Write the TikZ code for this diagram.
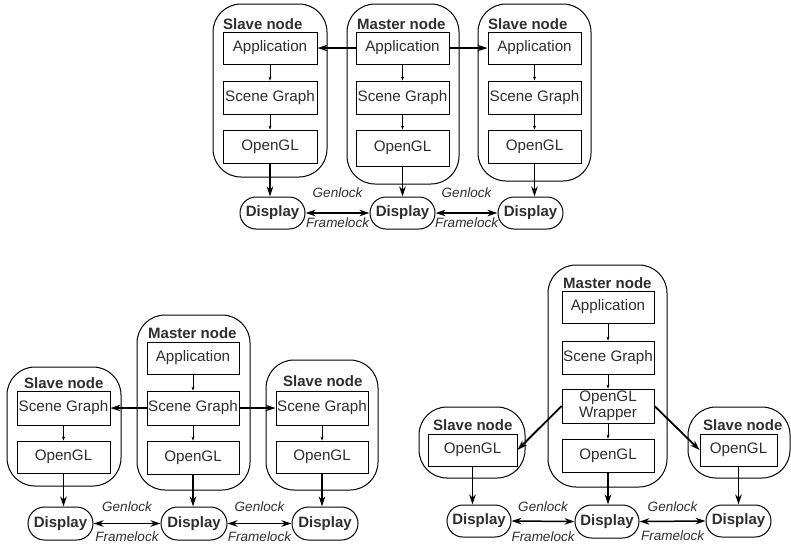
\documentclass[tikz,border=0pt]{standalone}
\usepackage{fontspec}
\setmainfont{Liberation Sans}
\usetikzlibrary{arrows.meta,shapes.misc}
\definecolor{txt}{HTML}{2E2E2E}
\tikzset{
 ibox/.style={draw, line width=0.9pt, rectangle, inner sep=0pt, font=\fontsize{15.2}{16}\selectfont, text=txt, align=center},
 obox/.style={draw, line width=1pt, rounded corners=28pt, inner sep=0pt},
 dispbox/.style={draw, line width=1pt, rounded rectangle, inner sep=0pt, font=\fontsize{15}{15}\selectfont\bfseries, text=txt},
 lab/.style={font=\fontsize{15}{15}\selectfont\bfseries, text=txt, anchor=west, inner sep=0pt},
 lock/.style={font=\fontsize{13.5}{14}\selectfont\itshape, text=txt, inner sep=0pt},
 thinarr/.style={-{Stealth[length=4pt,width=3pt]}, line width=0.5pt},
 thickarr/.style={-{Stealth[length=10pt,width=6.5pt]}, line width=1.8pt},
 botharr/.style={{Stealth[length=10pt,width=6.5pt]}-{Stealth[length=10pt,width=6.5pt]}, line width=1.5pt},
}
\newcommand\mybox[7]{\node[#1, minimum width={(#5)-(#3)}, minimum height={(#6)-(#4)}] (#2) at ({((#3)+(#5))/2},{((#4)+(#6))/2}) {#7};}
\begin{document}
\begin{tikzpicture}[x=1pt,y=-1pt]
\useasboundingbox (0,0) rectangle (791,547);
% ================= TOP =================
\mybox{obox}{tlB}{213}{4}{327}{177}{}
\mybox{obox}{tmB}{347}{4}{459}{184}{}
\mybox{obox}{trB}{478}{4}{591}{181}{}
\node[lab] (tlL) at (223,24) {Slave node};
\node[lab] (tmL) at (357,24) {Master node};
\node[lab] (trL) at (488,24) {Slave node};
\mybox{ibox}{tlA}{223}{32}{317}{64}{Application}
\mybox{ibox}{tlS}{223}{81}{317}{114}{Scene Graph}
\mybox{ibox}{tlO}{223}{130}{317}{163}{OpenGL}
\mybox{ibox}{tmA}{356}{32}{449}{64}{Application}
\mybox{ibox}{tmS}{356}{81}{449}{114}{Scene Graph}
\mybox{ibox}{tmO}{356}{130}{449}{166}{OpenGL}
\mybox{ibox}{trA}{488}{32}{581}{64}{Application}
\mybox{ibox}{trS}{488}{81}{581}{114}{Scene Graph}
\mybox{ibox}{trO}{488}{130}{581}{163}{OpenGL}
\mybox{dispbox}{tlD}{240}{197}{305}{229}{Display}
\mybox{dispbox}{tmD}{370}{197}{435}{229}{Display}
\mybox{dispbox}{trD}{498}{197}{563}{229}{Display}
\node[lock] (tg1) at (337.5,193) {Genlock};
\node[lock] (tf1) at (337.5,223) {Framelock};
\node[lock] (tg2) at (466.5,193) {Genlock};
\node[lock] (tf2) at (466.5,223) {Framelock};
\draw[thinarr] (tlA) -- (tlS);
\draw[thinarr] (tlS) -- (tlO);
\draw[thinarr] (tmA) -- (tmS);
\draw[thinarr] (tmS) -- (tmO);
\draw[thinarr] (trA) -- (trS);
\draw[thinarr] (trS) -- (trO);
\draw[thickarr] (tmA.west) -- (tlA.east);
\draw[thickarr] (tmA.east) -- (trA.west);
\draw[thickarr] (tlO.south) -- (tlO.south |- tlD.north);
\draw[thickarr] (tmO.south) -- (tmO.south |- tmD.north);
\draw[thickarr] (trO.south) -- (trO.south |- trD.north);
\draw[botharr] (tlD.east) -- (tmD.west);
\draw[botharr] (tmD.east) -- (trD.west);
% ================= BOTTOM LEFT =================
\mybox{obox}{blB}{7}{367}{121}{486}{}
\mybox{obox}{bmB}{137}{315}{250}{490}{}
\mybox{obox}{brB}{266}{360}{378}{490}{}
\node[lab] (blL) at (24,383) {Slave node};
\node[lab] (bmL) at (148,333) {Master node};
\node[lab] (brL) at (283,381) {Slave node};
\mybox{ibox}{blS}{17}{391}{110}{425}{Scene Graph}
\mybox{ibox}{blO}{17}{441}{110}{473}{OpenGL}
\mybox{ibox}{bmA}{147}{342}{239}{374}{Application}
\mybox{ibox}{bmS}{147}{391}{239}{425}{Scene Graph}
\mybox{ibox}{bmO}{147}{441}{239}{474}{OpenGL}
\mybox{ibox}{brS}{276}{391}{368}{425}{Scene Graph}
\mybox{ibox}{brO}{276}{441}{368}{473}{OpenGL}
\mybox{dispbox}{blD}{28}{507}{93}{540}{Display}
\mybox{dispbox}{bmD}{161}{507}{227}{540}{Display}
\mybox{dispbox}{brD}{292}{507}{358}{540}{Display}
\node[lock] (bg1) at (127,507) {Genlock};
\node[lock] (bf1) at (127,537) {Framelock};
\node[lock] (bg2) at (259.5,507) {Genlock};
\node[lock] (bf2) at (259.5,537) {Framelock};
\draw[thinarr] (blS) -- (blO);
\draw[thinarr] (bmA) -- (bmS);
\draw[thinarr] (bmS) -- (bmO);
\draw[thinarr] (brS) -- (brO);
\draw[thickarr] (bmS.west) -- (blS.east);
\draw[thickarr] (bmS.east) -- (brS.west);
\draw[thickarr] (blO.south) -- (blO.south |- blD.north);
\draw[thickarr] (bmO.south) -- (bmO.south |- bmD.north);
\draw[thickarr] (brO.south) -- (brO.south |- brD.north);
\draw[botharr] (blD.east) -- (bmD.west);
\draw[botharr] (bmD.east) -- (brD.west);
% ================= BOTTOM RIGHT =================
\mybox{obox}{clB}{419}{407}{525}{478}{}
\mybox{obox}{cmB}{548}{265}{667}{487}{}
\mybox{obox}{crB}{688}{407}{790}{478}{}
\node[lab] (clL) at (433,425) {Slave node};
\node[lab] (cmL) at (563,283) {Master node};
\node[lab] (crL) at (703,425) {Slave node};
\mybox{ibox}{clO}{428}{434}{517}{466}{OpenGL}
\mybox{ibox}{cmA}{562}{291}{654}{323}{Application}
\mybox{ibox}{cmS}{562}{341}{654}{374}{Scene Graph}
\mybox{ibox}{cmW}{562}{389}{654}{423}{OpenGL\\Wrapper}
\mybox{ibox}{cmO}{562}{439}{654}{472}{OpenGL}
\mybox{ibox}{crO}{700}{434}{777}{466}{OpenGL}
\mybox{dispbox}{clD}{447}{505}{511}{537}{Display}
\mybox{dispbox}{cmD}{575}{505}{639}{538}{Display}
\mybox{dispbox}{crD}{706}{505}{771}{537}{Display}
\node[lock] (cg1) at (543,507) {Genlock};
\node[lock] (cf1) at (543,537) {Framelock};
\node[lock] (cg2) at (672.5,507) {Genlock};
\node[lock] (cf2) at (672.5,536) {Framelock};
\draw[thinarr] (cmA) -- (cmS);
\draw[thinarr] (cmS) -- (cmW);
\draw[thinarr] (cmW) -- (cmO);
\draw[thickarr] (cmW.west) -- (clO.east);
\draw[thickarr] (cmW.east) -- (crO.west);
\draw[thickarr] (clO.south) -- (clO.south |- clD.north);
\draw[thickarr] (cmO.south) -- (cmO.south |- cmD.north);
\draw[thickarr] (crO.south) -- (crO.south |- crD.north);
\draw[botharr] (clD.east) -- (cmD.west);
\draw[botharr] (cmD.east) -- (crD.west);
\end{tikzpicture}
\end{document}
